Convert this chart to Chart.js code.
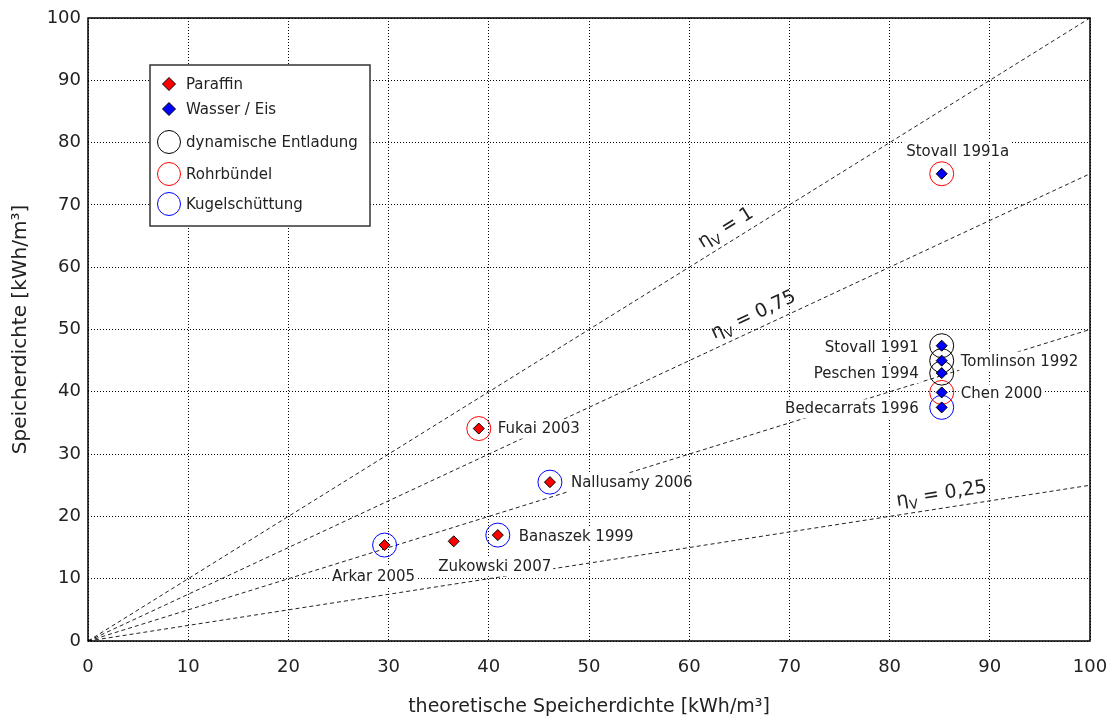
<!DOCTYPE html>
<html>
<head>
<meta charset="utf-8">
<script src="https://cdn.jsdelivr.net/npm/chart.js@4.4.0/dist/chart.umd.min.js"></script>
<style>
  html, body { margin: 0; padding: 0; background: #fff; }
</style>
</head>
<body>
<canvas id="chart" width="1118" height="722"></canvas>
<script>
// data
const studyLabels = ['Stovall 1991a', 'Stovall 1991', 'Tomlinson 1992', 'Peschen 1994', 'Chen 2000',
  'Bedecarrats 1996', 'Fukai 2003', 'Nallusamy 2006', 'Banaszek 1999', 'Zukowski 2007', 'Arkar 2005'];
const theoreticalDensity = [85.2, 85.2, 85.2, 85.2, 85.2, 85.2, 39.0, 46.1, 40.9, 36.5, 29.6];
const measuredDensity = [75.0, 47.4, 45.0, 43.0, 39.9, 37.5, 34.1, 25.5, 17.0, 16.0, 15.4];
const storageMedium = ['Wasser', 'Wasser', 'Wasser', 'Wasser', 'Wasser', 'Wasser',
  'Paraffin', 'Paraffin', 'Paraffin', 'Paraffin', 'Paraffin'];
const heatExchanger = ['Rohrbündel', 'dynamische Entladung', 'dynamische Entladung', 'dynamische Entladung',
  'Rohrbündel', 'Kugelschüttung', 'Rohrbündel', 'Kugelschüttung', 'Kugelschüttung', '', 'Kugelschüttung'];
const efficiencies = [1, 0.75, 0.5, 0.25];
const efficiencyLabels = ['1', '0,75', '', '0,25'];
const tickValues = [0, 10, 20, 30, 40, 50, 60, 70, 80, 90, 100];

// look
const FONT = '"DejaVu Sans", sans-serif';
const TEXT = '#222';
const mediumColor = { 'Paraffin': '#ff0000', 'Wasser': '#0000ff' };
const mediumLegend = { 'Paraffin': 'Paraffin', 'Wasser': 'Wasser / Eis' };
const exchangerColor = { 'dynamische Entladung': '#000000', 'Rohrbündel': '#ff0000', 'Kugelschüttung': '#0000ff' };

// where the study names sit relative to their point (px)
const labelPlacement = [
  { dx: 16, dy: -23, align: 'center' },
  { dx: -23, dy: 1, align: 'right' },
  { dx: 19, dy: 0, align: 'left' },
  { dx: -23, dy: 0, align: 'right' },
  { dx: 19, dy: 1, align: 'left' },
  { dx: -23, dy: 1, align: 'right' },
  { dx: 19, dy: 0, align: 'left' },
  { dx: 21, dy: 0, align: 'left' },
  { dx: 21, dy: 1, align: 'left' },
  { dx: 41, dy: 25, align: 'center' },
  { dx: -11, dy: 31, align: 'center' }
];
const etaLabelAt = [64.4, 67.0, null, 85.4];

const pts = i => ({ x: theoreticalDensity[i], y: measuredDensity[i] });
const idx = studyLabels.map((_, i) => i);

const datasets = [];
efficiencies.forEach(eta => {
  datasets.push({
    type: 'line',
    label: 'eta ' + eta,
    data: [{ x: 0, y: 0 }, { x: 100, y: 100 * eta }],
    borderColor: '#222',
    borderWidth: 1,
    borderDash: [4, 3],
    pointRadius: 0,
    order: 10
  });
});
Object.keys(exchangerColor).forEach(ex => {
  datasets.push({
    label: ex,
    data: idx.filter(i => heatExchanger[i] === ex).map(pts),
    pointStyle: 'circle',
    pointRadius: 12,
    pointHoverRadius: 12,
    borderWidth: 1,
    borderColor: exchangerColor[ex],
    backgroundColor: 'rgba(0,0,0,0)',
    order: 2
  });
});
Object.keys(mediumColor).forEach(m => {
  datasets.push({
    label: m,
    data: idx.filter(i => storageMedium[i] === m).map(pts),
    pointStyle: 'rectRot',
    pointRadius: 5.5,
    pointHoverRadius: 5.5,
    borderWidth: 1,
    borderColor: '#000',
    backgroundColor: mediumColor[m],
    order: 1
  });
});

const annotations = {
  id: 'annotations',
  afterDatasetsDraw(chart) {
    const { ctx, chartArea: a, scales: { x, y } } = chart;
    ctx.save();

    // frame
    ctx.strokeStyle = '#000';
    ctx.lineWidth = 1.5;
    ctx.strokeRect(a.left, a.top, a.right - a.left, a.bottom - a.top);

    // study names on white
    ctx.font = '15px ' + FONT;
    ctx.textBaseline = 'middle';
    ctx.textAlign = 'left';
    studyLabels.forEach((name, i) => {
      const p = labelPlacement[i];
      const px = x.getPixelForValue(theoreticalDensity[i]) + p.dx;
      const py = y.getPixelForValue(measuredDensity[i]) + p.dy;
      const w = ctx.measureText(name).width;
      const left = p.align === 'right' ? px - w : p.align === 'center' ? px - w / 2 : px;
      ctx.fillStyle = '#fff';
      ctx.fillRect(left - 2, py - 9, w + 4, 19);
      ctx.fillStyle = TEXT;
      ctx.fillText(name, left, py + 1);
    });

    // eta labels along the lines
    const x0 = x.getPixelForValue(0), y0 = y.getPixelForValue(0);
    efficiencies.forEach((eta, k) => {
      if (!efficiencyLabels[k]) return;
      const ang = Math.atan2(y.getPixelForValue(100 * eta) - y0, x.getPixelForValue(100) - x0);
      const vx = etaLabelAt[k];
      ctx.save();
      ctx.translate(x.getPixelForValue(vx), y.getPixelForValue(vx * eta));
      ctx.rotate(ang);
      ctx.textBaseline = 'alphabetic';
      const big = '19px ' + FONT, small = '13px ' + FONT;
      const rest = ' = ' + efficiencyLabels[k];
      ctx.font = big; const w1 = ctx.measureText('η').width; const w3 = ctx.measureText(rest).width;
      ctx.font = small; const w2 = ctx.measureText('V').width;
      let sx = -(w1 + w2 + w3) / 2;
      const base = -9;
      ctx.fillStyle = TEXT;
      ctx.font = big; ctx.fillText('η', sx, base); sx += w1;
      ctx.font = small; ctx.fillText('V', sx, base + 5); sx += w2;
      ctx.font = big; ctx.fillText(rest, sx, base);
      ctx.restore();
    });

    // legend box
    const lx = a.left + 62, ly = a.top + 47, lw = 220, lh = 161;
    ctx.fillStyle = '#fff';
    ctx.fillRect(lx, ly, lw, lh);
    ctx.strokeStyle = '#333';
    ctx.lineWidth = 1.5;
    ctx.strokeRect(lx, ly, lw, lh);
    ctx.font = '15px ' + FONT;
    ctx.textBaseline = 'middle';
    const rowsY = [19, 44, 77, 109, 139];
    const entries = Object.keys(mediumColor).map(m => ({ text: mediumLegend[m], kind: 'd', color: mediumColor[m] }))
      .concat(Object.keys(exchangerColor).map(e => ({ text: e, kind: 'c', color: exchangerColor[e] })));
    entries.forEach((e, j) => {
      const cx = lx + 19, cy = ly + rowsY[j];
      ctx.lineWidth = 1;
      ctx.beginPath();
      if (e.kind === 'd') {
        ctx.moveTo(cx, cy - 6.5); ctx.lineTo(cx + 6.5, cy); ctx.lineTo(cx, cy + 6.5); ctx.lineTo(cx - 6.5, cy); ctx.closePath();
        ctx.fillStyle = e.color; ctx.fill();
        ctx.strokeStyle = '#000'; ctx.stroke();
      } else {
        ctx.arc(cx, cy, 11.5, 0, Math.PI * 2);
        ctx.strokeStyle = e.color; ctx.stroke();
      }
      ctx.fillStyle = TEXT;
      ctx.fillText(e.text, lx + 36, cy + 1);
    });
    ctx.restore();
  }
};

new Chart(document.getElementById('chart'), {
  type: 'scatter',
  data: { datasets },
  options: {
    responsive: false,
    animation: false,
    events: [],
    layout: { padding: { left: 0, right: 28, top: 18, bottom: 0 } },
    plugins: { legend: { display: false }, tooltip: { enabled: false } },
    scales: {
      x: {
        type: 'linear', min: 0, max: 100,
        afterBuildTicks: s => { s.ticks = tickValues.map(v => ({ value: v })); },
        afterFit: s => { s.height = 81; s.paddingLeft = 0; s.paddingRight = 0; },
        grid: { color: '#000', lineWidth: 1, drawTicks: false },
        border: { display: false, dash: [1, 2] },
        ticks: { color: TEXT, font: { family: FONT, size: 18 }, padding: 16 },
        title: { display: true, text: 'theoretische Speicherdichte [kWh/m³]', color: TEXT,
          font: { family: FONT, size: 19 }, padding: { top: 0, bottom: 4 } }
      },
      y: {
        type: 'linear', min: 0, max: 100,
        afterBuildTicks: s => { s.ticks = tickValues.map(v => ({ value: v })); },
        afterFit: s => { s.width = 88; s.paddingTop = 0; s.paddingBottom = 0; },
        grid: { color: '#000', lineWidth: 1, drawTicks: false },
        border: { display: false, dash: [1, 2] },
        ticks: { color: TEXT, font: { family: FONT, size: 18 }, padding: 7 },
        title: { display: true, text: 'Speicherdichte [kWh/m³]', color: TEXT,
          font: { family: FONT, size: 20 }, padding: { top: 9, bottom: 0 } }
      }
    }
  },
  plugins: [annotations]
});
</script>
</body>
</html>
